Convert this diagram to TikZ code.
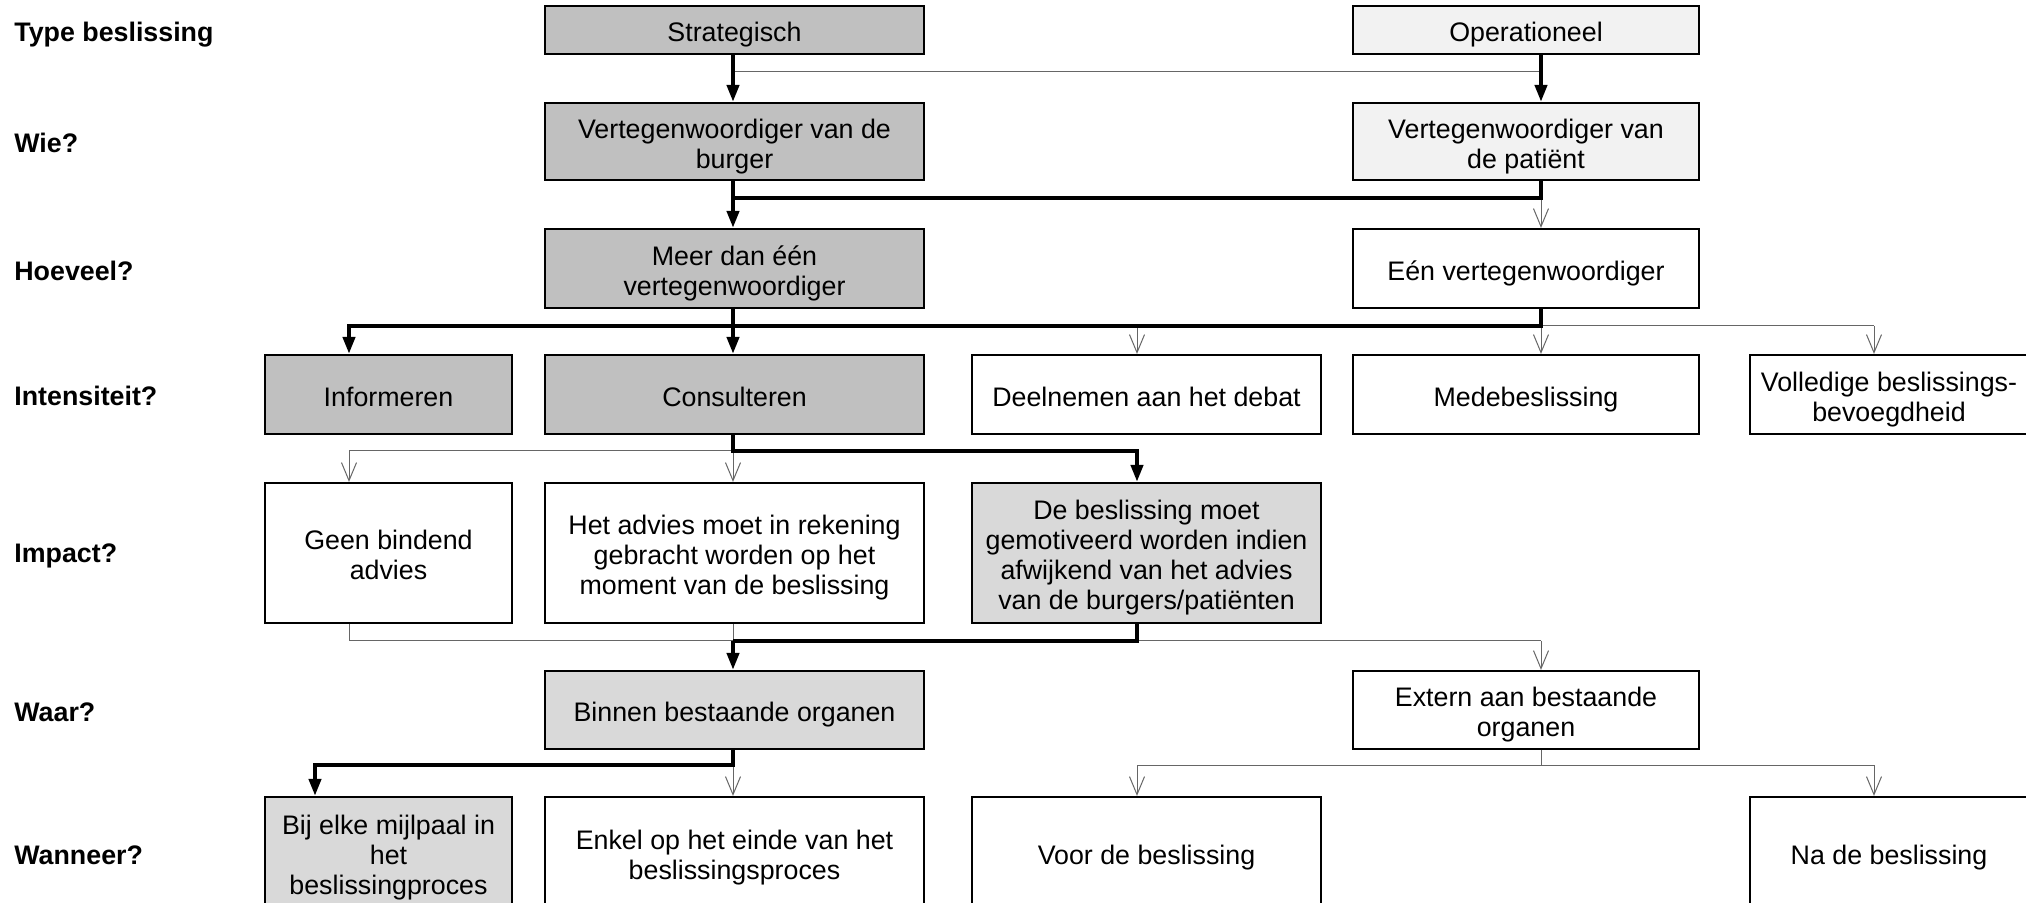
\documentclass[tikz,border=0pt]{standalone}
\usepackage{fontspec}
\setmainfont{Liberation Sans}
\usetikzlibrary{arrows.meta}
\definecolor{gA}{HTML}{C0C0C0}
\definecolor{gB}{HTML}{F2F2F2}
\definecolor{gC}{HTML}{D9D9D9}
\definecolor{thincol}{HTML}{666666}
\newcommand{\tx}[1]{\raisebox{-2.8pt}[\height][\depth]{\begin{tabular}{@{}c@{}}#1\end{tabular}}}
\begin{document}
\begin{tikzpicture}[x=0.5pt,y=-0.5pt,
  box/.style={draw=black, line width=1.1pt, inner sep=0pt,
    font=\fontsize{13.4}{15}\selectfont},
  lbl/.style={anchor=west, inner sep=0pt, font=\fontsize{13.4}{15}\selectfont\bfseries},
  colA/.style={minimum width=123.5pt},
  colB/.style={minimum width=189.5pt},
  colC/.style={minimum width=174.5pt},
  colD/.style={minimum width=173pt},
  colE/.style={minimum width=139pt},
  rowA/.style={minimum height=24pt},
  rowB/.style={minimum height=38.5pt},
  rowC/.style={minimum height=39.5pt},
  rowD/.style={minimum height=39.5pt},
  rowE/.style={minimum height=70pt},
  rowF/.style={minimum height=39pt},
  rowG/.style={minimum height=56pt},
  thk/.style={line width=2pt, draw=black, -{Triangle[length=8.5pt,width=6pt]}},
  thkline/.style={line width=2pt, draw=black, line join=miter},
  thinline/.style={line width=0.5pt, draw=thincol},
  thnarr/.style={line width=0.5pt, draw=thincol, -{Straight Barb[length=9pt,width=7.5pt]}}
]
\useasboundingbox (0,0) rectangle (2026,903);
\clip (0,0) rectangle (2026,903);
\fill[white] (0,0) rectangle (2026,903);

% row labels
\node[lbl] (lA) at (14,35) {Type beslissing};
\node[lbl] (lB) at (14,143) {Wie?};
\node[lbl] (lC) at (14,271) {Hoeveel?};
\node[lbl] (lD) at (14,396) {Intensiteit?};
\node[lbl] (lE) at (14,556) {Impact?};
\node[lbl] (lF) at (14,712) {Waar?};
\node[lbl] (lG) at (14,855) {Wanneer?};

% boxes
\node[box, colB, rowA, fill=gA] (strat) at (734.5,30) {\tx{Strategisch}};
\node[box, colD, rowA, fill=gB] (oper) at (1526,30) {\tx{Operationeel}};

\node[box, colB, rowB, fill=gA] (vb) at (734.5,141.5) {\tx{Vertegenwoordiger van de\\burger}};
\node[box, colD, rowB, fill=gB] (vp) at (1526,141.5) {\tx{Vertegenwoordiger van\\de patiënt}};

\node[box, colB, rowC, fill=gA] (meer) at (734.5,268.5) {\tx{Meer dan één\\vertegenwoordiger}};
\node[box, colD, rowC, fill=white] (een) at (1526,268.5) {\tx{Eén vertegenwoordiger}};

\node[box, colA, rowD, fill=gA] (inf) at (388.5,394.5) {\tx{Informeren}};
\node[box, colB, rowD, fill=gA] (cons) at (734.5,394.5) {\tx{Consulteren}};
\node[box, colC, rowD, fill=white] (deel) at (1146.5,394.5) {\tx{Deelnemen aan het debat}};
\node[box, colD, rowD, fill=white] (mede) at (1526,394.5) {\tx{Medebeslissing}};
\node[box, colE, rowD, fill=white] (voll) at (1889,394.5) {\tx{Volledige beslissings-\\bevoegdheid}};

\node[box, colA, rowE, fill=white] (geen) at (388.5,553) {\tx{Geen bindend\\advies}};
\node[box, colB, rowE, fill=white] (advies) at (734.5,553) {\tx{Het advies moet in rekening\\gebracht worden op het\\moment van de beslissing}};
\node[box, colC, rowE, fill=gC] (debes) at (1146.5,553) {\tx{De beslissing moet\\gemotiveerd worden indien\\afwijkend van het advies\\van de burgers/patiënten}};

\node[box, colB, rowF, fill=gC] (binnen) at (734.5,710) {\tx{Binnen bestaande organen}};
\node[box, colD, rowF, fill=white] (ext) at (1526,710) {\tx{Extern aan bestaande\\organen}};

\node[box, colA, rowG, fill=gC] (bij) at (388.5,853) {\tx{Bij elke mijlpaal in\\het\\beslissingproces}};
\node[box, colB, rowG, fill=white] (enkel) at (734.5,853) {\tx{Enkel op het einde van het\\beslissingsproces}};
\node[box, colC, rowG, fill=white] (voor) at (1146.5,853) {\tx{Voor de beslissing}};
\node[box, colE, rowG, fill=white] (na) at (1889,853) {\tx{Na de beslissing}};

% guide coordinates
\coordinate (xA) at (349,0);
\coordinate (xAg) at (315,0);
\coordinate (xB) at (733,0);
\coordinate (xC) at (1137,0);
\coordinate (xD) at (1541,0);
\coordinate (xE) at (1874,0);
\coordinate (yA) at (0,72);
\coordinate (yB) at (0,198);
\coordinate (yC) at (0,326);
\coordinate (yD) at (0,451);
\coordinate (yE) at (0,641);
\coordinate (yF) at (0,765);

% level 1
\draw[thinline] (xB |- yA) -- (xD |- yA);
\draw[thk] (strat.south -| xB) -- (vb.north -| xB);
\draw[thk] (oper.south -| xD) -- (vp.north -| xD);

% level 2
\draw[thnarr] (xD |- yB) -- (een.north -| xD);
\draw[thkline] (vp.south -| xD) -- (xD |- yB) -- (xB |- yB);
\draw[thk] (vb.south -| xB) -- (meer.north -| xB);

% level 3
\draw[thinline] (xD |- yC) -- (xE |- yC);
\draw[thnarr] (xC |- yC) -- (deel.north -| xC);
\draw[thnarr] (xD |- yC) -- (mede.north -| xD);
\draw[thnarr] (xE |- yC) -- (voll.north -| xE);
\draw[thk, line join=miter] (een.south -| xD) -- (xD |- yC) -- (xA |- yC) -- (inf.north -| xA);
\draw[thk] (meer.south -| xB) -- (cons.north -| xB);

% level 4
\draw[thinline] (xA |- yD) -- (xB |- yD);
\draw[thnarr] (xA |- yD) -- (geen.north -| xA);
\draw[thnarr] (xB |- yD) -- (advies.north -| xB);
\draw[thk, line join=miter] (cons.south -| xB) -- (xB |- yD) -- (xC |- yD) -- (debes.north -| xC);

% level 5
\draw[thinline] (geen.south -| xA) -- (xA |- yE) -- (xB |- yE);
\draw[thinline] (advies.south -| xB) -- (xB |- yE);
\draw[thinline] (xC |- yE) -- (xD |- yE);
\draw[thnarr] (xD |- yE) -- (ext.north -| xD);
\draw[thkline] (debes.south -| xC) -- (xC |- yE) -- (xB |- yE);
\draw[thk] (xB |- yE) -- (binnen.north -| xB);

% level 6
\draw[thnarr] (xB |- yF) -- (enkel.north -| xB);
\draw[thk, line join=miter] (binnen.south -| xB) -- (xB |- yF) -- (xAg |- yF) -- (bij.north -| xAg);
\draw[thinline] (ext.south -| xD) -- (xD |- yF);
\draw[thinline] (xC |- yF) -- (xE |- yF);
\draw[thnarr] (xC |- yF) -- (voor.north -| xC);
\draw[thnarr] (xE |- yF) -- (na.north -| xE);
\end{tikzpicture}
\end{document}
